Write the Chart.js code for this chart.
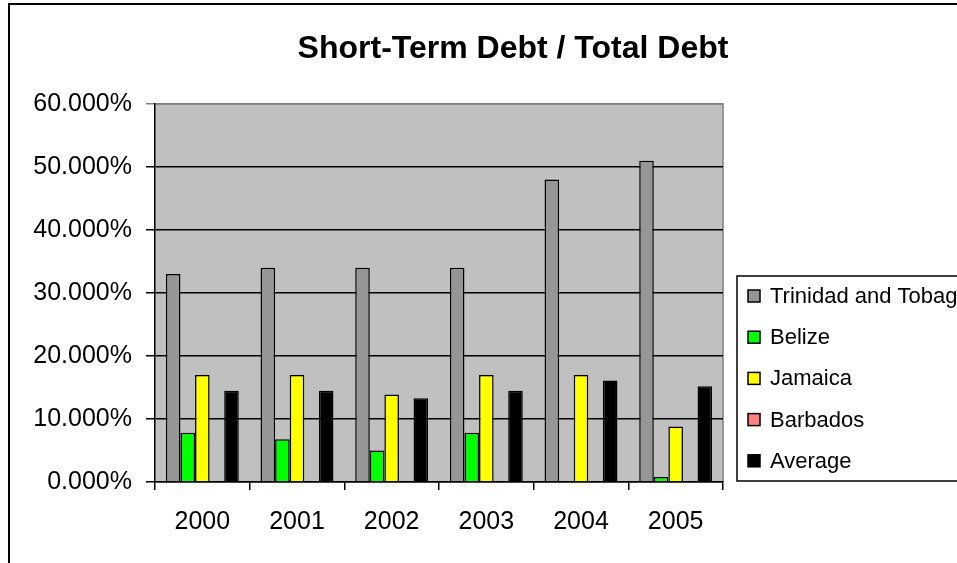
<!DOCTYPE html>
<html>
<head>
<meta charset="utf-8">
<script src="https://cdn.jsdelivr.net/npm/chart.js@4/dist/chart.umd.min.js"></script>
<style>
  html, body { margin: 0; padding: 0; background: #fff; overflow: hidden; }
  #frame {
    position: absolute; left: 8px; top: 3px; width: 1010px; height: 600px;
    border: 2px solid #000; box-sizing: border-box; background: #fff;
  }
  #wrap { position: absolute; left: 0; top: 0; width: 1026px; height: 563px; }
</style>
</head>
<body>
<div id="frame"></div>
<div id="wrap"><canvas id="chart" width="1026" height="563"></canvas></div>
<script>
const years = ['2000', '2001', '2002', '2003', '2004', '2005'];
const trinidad = [33, 34, 34, 34, 48, 51];
const belize = [7.8, 6.8, 5.0, 7.8, 0, 0.8];
const jamaica = [17, 17, 13.9, 17, 17, 8.8];
const barbados = [0, 0, 0, 0, 0, 0];
const average = [14.5, 14.5, 13.3, 14.5, 16.1, 15.2];

const seriesNames = ['Trinidad and Tobago', 'Belize', 'Jamaica', 'Barbados', 'Average'];
const seriesColors = ['#969696', '#00ff00', '#ffff00', '#ff8080', '#000000'];
const seriesData = [trinidad, belize, jamaica, barbados, average];

const chartTitle = 'Short-Term Debt / Total Debt';
const FONT = "'Liberation Sans', Arial, sans-serif";

// grey plot area + its grey top/right edge
const plotBg = {
    id: 'plotBg',
    beforeDraw(chart) {
        const { ctx, chartArea: a } = chart;
        ctx.save();
        ctx.fillStyle = '#c0c0c0';
        ctx.fillRect(a.left, a.top, a.right - a.left, a.bottom - a.top);
        ctx.strokeStyle = '#808080';
        ctx.lineWidth = 1.5;
        ctx.beginPath();
        ctx.moveTo(a.left, a.top);
        ctx.lineTo(a.right, a.top);
        ctx.lineTo(a.right, a.bottom);
        ctx.stroke();
        ctx.restore();
    }
};

// title is centred on the whole chart frame, not on the plot
const frameTitle = {
    id: 'frameTitle',
    afterDraw(chart) {
        const ctx = chart.ctx;
        ctx.save();
        ctx.font = 'bold 32px ' + FONT;
        ctx.fillStyle = '#000';
        ctx.textAlign = 'center';
        ctx.textBaseline = 'middle';
        ctx.fillText(chartTitle, 513, 49);
        ctx.restore();
    }
};

// boxed legend on the right, like the spreadsheet one
const boxLegend = {
    id: 'boxLegend',
    afterDraw(chart) {
        const ctx = chart.ctx;
        const x = 737, y = 276, h = 205;
        ctx.save();
        ctx.fillStyle = '#fff';
        ctx.fillRect(x, y, 400, h);
        ctx.strokeStyle = '#000';
        ctx.lineWidth = 1.5;
        ctx.strokeRect(x, y, 400, h);
        ctx.font = '22px ' + FONT;
        ctx.textBaseline = 'middle';
        chart.data.datasets.forEach((ds, i) => {
            const cy = 296 + i * 41.2;
            ctx.fillStyle = ds.backgroundColor;
            ctx.fillRect(748, cy - 6, 12, 12);
            ctx.strokeStyle = '#000';
            ctx.lineWidth = 1.5;
            ctx.strokeRect(748, cy - 6, 12, 12);
            ctx.fillStyle = '#000';
            ctx.fillText(ds.label, 770, cy + 1);
        });
        ctx.restore();
    }
};

const chart = new Chart(document.getElementById('chart'), {
    type: 'bar',
    data: {
        labels: years,
        datasets: seriesNames.map((name, i) => ({
            label: name,
            data: seriesData[i],
            backgroundColor: seriesColors[i],
            borderColor: '#000',
            borderWidth: 1.5,
            categoryPercentage: 0.77,
            barPercentage: 1.0
        }))
    },
    options: {
        responsive: false,
        animation: false,
        devicePixelRatio: 1,
        layout: { padding: { left: 0, right: 303, top: 104, bottom: 0 } },
        plugins: {
            legend: { display: false },
            tooltip: { enabled: false },
            title: { display: false }
        },
        scales: {
            x: {
                afterFit(scale) { scale.height = 81; },
                grid: {
                    display: true,
                    drawOnChartArea: false,
                    drawTicks: true,
                    tickLength: 8,
                    color: '#000',
                    lineWidth: 1.5
                },
                border: { display: true, color: '#000', width: 1.5 },
                ticks: {
                    color: '#000',
                    padding: 17,
                    font: { family: FONT, size: 25 }
                }
            },
            y: {
                min: 0,
                max: 60,
                afterFit(scale) { scale.width = 155; },
                grid: {
                    color: ctx => (ctx.tick && ctx.tick.value === 60) ? '#808080' : '#000',
                    lineWidth: 1.5,
                    tickLength: 9
                },
                border: { display: true, color: '#000', width: 1.5 },
                ticks: {
                    stepSize: 10,
                    color: '#000',
                    padding: 14,
                    font: { family: FONT, size: 25 },
                    callback: v => v.toFixed(3) + '%'
                }
            }
        }
    },
    plugins: [plotBg, frameTitle, boxLegend]
});
</script>
</body>
</html>
